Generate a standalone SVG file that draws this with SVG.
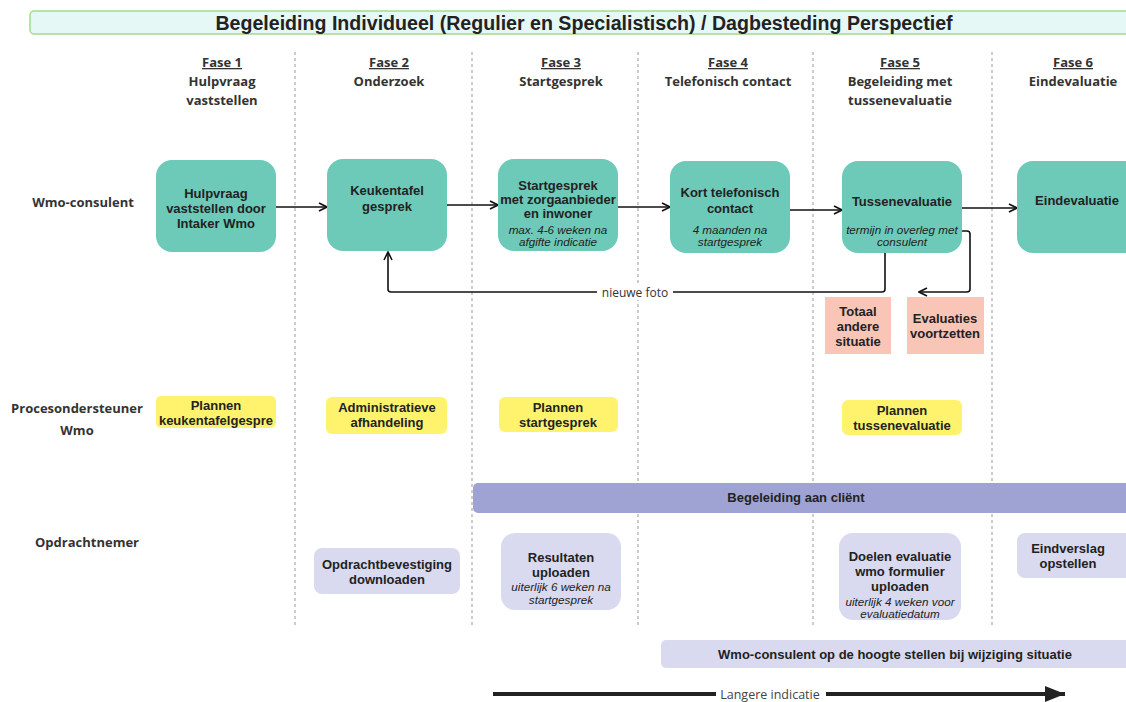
<svg xmlns="http://www.w3.org/2000/svg" width="1126" height="702" viewBox="0 0 1126 702">
<style>
.ph{font-family:"Open Sans","Liberation Sans",sans-serif;font-weight:bold;font-size:13px;fill:#333;text-anchor:middle}
.phu{text-decoration:underline}
.lane{font-family:"Open Sans","Liberation Sans",sans-serif;font-weight:bold;font-size:13px;fill:#333;text-anchor:middle}
.t{font-family:"Liberation Sans",Arial,sans-serif;font-weight:bold;font-size:13px;fill:#222;text-anchor:middle}
.i{font-family:"Liberation Sans",Arial,sans-serif;font-style:italic;font-size:11.7px;fill:#222;text-anchor:middle}
.green{fill:#6dcab8}
.yellow{fill:#fff36e}
.pink{fill:#f8c5b7}
.lav{fill:#d9daf0}
.sep{stroke:#999;stroke-width:1;stroke-dasharray:3 3}
.con{fill:none;stroke:#111;stroke-width:1.6}
</style>
<defs>
<marker id="open" viewBox="0 0 10 10" refX="9" refY="5" markerWidth="10" markerHeight="10" markerUnits="userSpaceOnUse" orient="auto">
<path d="M1,1 L9,5 L1,9" fill="none" stroke="#111" stroke-width="1.6"/>
</marker>
<marker id="fill" viewBox="0 0 20 16" refX="20" refY="8" markerWidth="20" markerHeight="16" markerUnits="userSpaceOnUse" orient="auto">
<path d="M0,0 L20,8 L0,16 Z" fill="#222"/>
</marker>
</defs>
<rect width="1126" height="702" fill="#fff"/>

<g id="title">
<rect x="30" y="11" width="1110" height="23" rx="4" fill="#e6f8f5" stroke="#a3da8e" stroke-width="1.5"/>
<text x="584" y="29.5" font-family="Liberation Sans,Arial,sans-serif" font-weight="bold" font-size="19.6" fill="#222" text-anchor="middle">Begeleiding Individueel (Regulier en Specialistisch) / Dagbesteding Perspectief</text>
</g>

<g id="separators">
<line class="sep" x1="295" y1="52" x2="295" y2="626"/>
<line class="sep" x1="472" y1="52" x2="472" y2="626"/>
<line class="sep" x1="638" y1="52" x2="638" y2="626"/>
<line class="sep" x1="813" y1="52" x2="813" y2="626"/>
<line class="sep" x1="992" y1="52" x2="992" y2="626"/>
</g>

<g id="phases">
<text class="ph phu" x="222" y="67">Fase 1</text>
<text class="ph" x="222" y="86">Hulpvraag</text>
<text class="ph" x="222" y="105">vaststellen</text>
<text class="ph phu" x="389" y="67">Fase 2</text>
<text class="ph" x="389" y="86">Onderzoek</text>
<text class="ph phu" x="561" y="67">Fase 3</text>
<text class="ph" x="561" y="86">Startgesprek</text>
<text class="ph phu" x="728" y="67">Fase 4</text>
<text class="ph" x="728" y="86">Telefonisch contact</text>
<text class="ph phu" x="900" y="67">Fase 5</text>
<text class="ph" x="900" y="86">Begeleiding met</text>
<text class="ph" x="900" y="105">tussenevaluatie</text>
<text class="ph phu" x="1073" y="67">Fase 6</text>
<text class="ph" x="1073" y="86">Eindevaluatie</text>
</g>

<g id="lanes">
<text class="lane" x="83" y="207">Wmo-consulent</text>
<text class="lane" x="77" y="413">Procesondersteuner</text>
<text class="lane" x="77" y="435">Wmo</text>
<text class="lane" x="87" y="547">Opdrachtnemer</text>
</g>

<g id="band">
<rect x="473" y="483" width="670" height="30" rx="5" fill="#9fa3d4"/>
<text class="t" x="796" y="502">Begeleiding aan cliënt</text>
</g>

<g id="connectors">
<line class="con" x1="276" y1="207" x2="327" y2="207" marker-end="url(#open)"/>
<line class="con" x1="447" y1="205" x2="498" y2="205" marker-end="url(#open)"/>
<line class="con" x1="618" y1="207" x2="670" y2="207" marker-end="url(#open)"/>
<line class="con" x1="790" y1="210" x2="842" y2="210" marker-end="url(#open)"/>
<line class="con" x1="962" y1="208" x2="1017" y2="208" marker-end="url(#open)"/>
<path class="con" d="M885,253 V289 Q885,292 882,292 H391 Q388,292 388,289 V252" marker-end="url(#open)"/>
<path class="con" d="M962,231 H967 Q970,231 970,234 V289 Q970,292 967,292 H919" marker-end="url(#open)"/>
<rect x="597" y="285" width="76" height="15" fill="#fff"/>
<text x="635" y="297" font-family="Open Sans,Liberation Sans,sans-serif" font-size="12" fill="#333" text-anchor="middle">nieuwe foto</text>
<line x1="493" y1="694" x2="716" y2="694" stroke="#222" stroke-width="4"/>
<line x1="826" y1="694" x2="1065" y2="694" stroke="#222" stroke-width="4" marker-end="url(#fill)"/>
<text x="770" y="699" font-family="Open Sans,Liberation Sans,sans-serif" font-size="12.5" fill="#444" text-anchor="middle">Langere indicatie</text>
</g>

<g id="n1">
<rect class="green" x="156" y="160" width="120" height="92" rx="16"/>
<text class="t" x="216" y="198">Hulpvraag</text>
<text class="t" x="216" y="213">vaststellen door</text>
<text class="t" x="216" y="228">Intaker Wmo</text>
</g>
<g id="n2">
<rect class="green" x="327" y="159" width="120" height="92" rx="16"/>
<text class="t" x="387" y="195">Keukentafel</text>
<text class="t" x="387" y="211">gesprek</text>
</g>
<g id="n3">
<rect class="green" x="498" y="159" width="120" height="92" rx="16"/>
<text class="t" x="558" y="190">Startgesprek</text>
<text class="t" x="558" y="204">met zorgaanbieder</text>
<text class="t" x="558" y="218">en inwoner</text>
<text class="i" x="558" y="234">max. 4-6 weken na</text>
<text class="i" x="558" y="246">afgifte indicatie</text>
</g>
<g id="n4">
<rect class="green" x="670" y="161" width="120" height="92" rx="16"/>
<text class="t" x="730" y="197">Kort telefonisch</text>
<text class="t" x="730" y="213">contact</text>
<text class="i" x="730" y="234">4 maanden na</text>
<text class="i" x="730" y="246">startgesprek</text>
</g>
<g id="n5">
<rect class="green" x="842" y="161" width="120" height="92" rx="16"/>
<text class="t" x="902" y="206">Tussenevaluatie</text>
<text class="i" x="902" y="234">termijn in overleg met</text>
<text class="i" x="902" y="246">consulent</text>
</g>
<g id="n6">
<rect class="green" x="1017" y="161" width="130" height="92" rx="16"/>
<text class="t" x="1077" y="205">Eindevaluatie</text>
</g>

<g id="p1">
<rect class="pink" x="825" y="297" width="66" height="57"/>
<text class="t" x="858" y="316">Totaal</text>
<text class="t" x="858" y="331">andere</text>
<text class="t" x="858" y="346">situatie</text>
</g>
<g id="p2">
<rect class="pink" x="907" y="297" width="77" height="57"/>
<text class="t" x="945" y="323">Evaluaties</text>
<text class="t" x="945" y="338">voortzetten</text>
</g>

<g id="y1">
<rect class="yellow" x="156" y="396" width="120" height="32" rx="5"/>
<text class="t" x="216" y="410">Plannen</text>
<text class="t" x="216" y="425">keukentafelgespre</text>
</g>
<g id="y2">
<rect class="yellow" x="326" y="397" width="121" height="37" rx="6"/>
<text class="t" x="387" y="412">Administratieve</text>
<text class="t" x="387" y="427">afhandeling</text>
</g>
<g id="y3">
<rect class="yellow" x="499" y="397" width="119" height="35" rx="6"/>
<text class="t" x="558" y="412">Plannen</text>
<text class="t" x="558" y="427">startgesprek</text>
</g>
<g id="y4">
<rect class="yellow" x="842" y="400" width="120" height="35" rx="6"/>
<text class="t" x="902" y="415">Plannen</text>
<text class="t" x="902" y="430">tussenevaluatie</text>
</g>

<g id="l1">
<rect class="lav" x="314" y="548" width="146" height="46" rx="8"/>
<text class="t" x="387" y="569">Opdrachtbevestiging</text>
<text class="t" x="387" y="584">downloaden</text>
</g>
<g id="l2">
<rect class="lav" x="501" y="533" width="120" height="77" rx="14"/>
<text class="t" x="561" y="562">Resultaten</text>
<text class="t" x="561" y="577">uploaden</text>
<text class="i" x="561" y="591">uiterlijk 6 weken na</text>
<text class="i" x="561" y="604">startgesprek</text>
</g>
<g id="l3">
<rect class="lav" x="839" y="533" width="122" height="87" rx="14"/>
<text class="t" x="900" y="561">Doelen evaluatie</text>
<text class="t" x="900" y="576">wmo formulier</text>
<text class="t" x="900" y="591">uploaden</text>
<text class="i" x="900" y="606">uiterlijk 4 weken voor</text>
<text class="i" x="900" y="618">evaluatiedatum</text>
</g>
<g id="l4">
<rect class="lav" x="1017" y="533" width="130" height="45" rx="8"/>
<text class="t" x="1068" y="553">Eindverslag</text>
<text class="t" x="1068" y="568">opstellen</text>
</g>
<g id="l5">
<rect class="lav" x="661" y="640" width="480" height="28" rx="5"/>
<text class="t" x="895" y="659">Wmo-consulent op de hoogte stellen bij wijziging situatie</text>
</g>
</svg>
